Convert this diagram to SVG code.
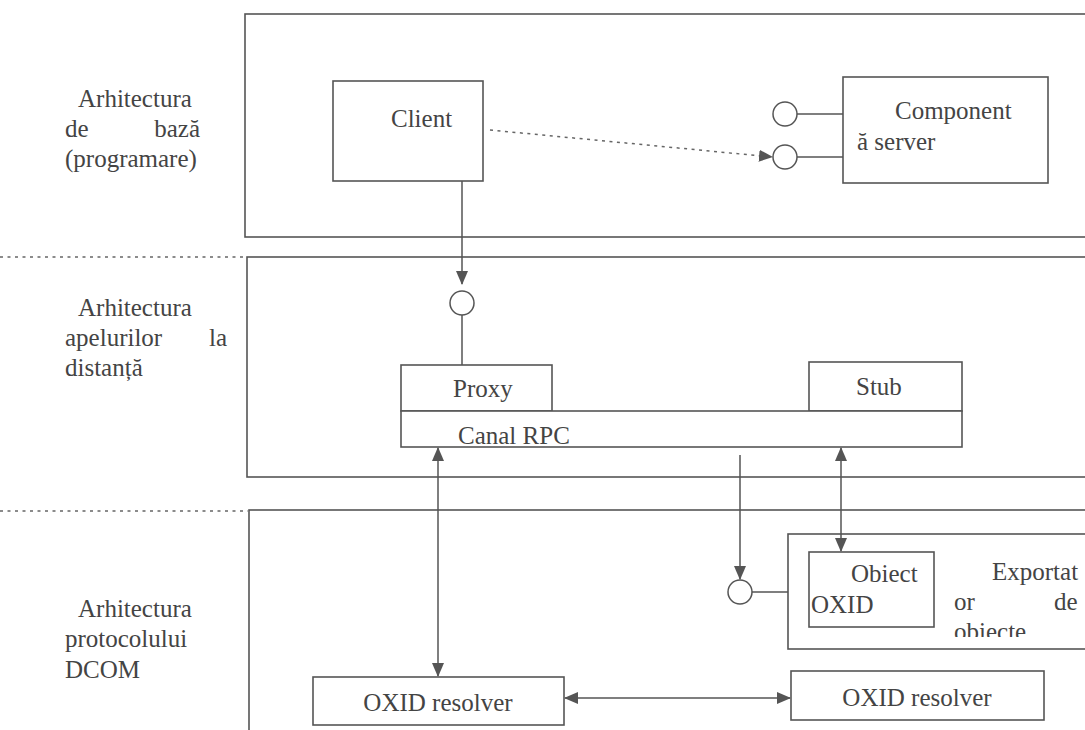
<svg xmlns="http://www.w3.org/2000/svg" width="1085" height="730" viewBox="0 0 1085 730">
<style>
.t{font-family:"Liberation Serif","Times New Roman",serif;font-size:25px;fill:#444}
.b{fill:#fff;stroke:#555;stroke-width:1.6}
.c{fill:none;stroke:#555;stroke-width:1.5}
.d{fill:none;stroke:#666;stroke-width:1.5;stroke-dasharray:3 4.5}
</style>
<defs>
<marker id="ah" markerUnits="userSpaceOnUse" markerWidth="14" markerHeight="12" viewBox="0 0 14 12" refX="13" refY="6" orient="auto-start-reverse">
<path d="M0,0 L14,6 L0,12 Z" fill="#555"/>
</marker>
<clipPath id="clipObj"><rect x="940" y="540" width="160" height="97"/></clipPath>
</defs>
<rect width="1085" height="730" fill="#fff"/>

<g id="dividers">
<line class="d" x1="0" y1="257" x2="245" y2="257"/>
<line class="d" x1="0" y1="511" x2="248" y2="511"/>
</g>

<g id="panel-base">
<rect class="b" x="245" y="14" width="860" height="223"/>
<text class="t" x="78" y="107">Arhitectura</text>
<text class="t" x="65" y="137">de</text>
<text class="t" x="200" y="137" text-anchor="end">bază</text>
<text class="t" x="65" y="167">(programare)</text>
</g>

<g id="panel-remote">
<rect class="b" x="247" y="257" width="860" height="220"/>
<text class="t" x="78" y="316">Arhitectura</text>
<text class="t" x="65" y="346">apelurilor</text>
<text class="t" x="227" y="346" text-anchor="end">la</text>
<text class="t" x="65" y="376">distanță</text>
</g>

<g id="panel-dcom">
<rect class="b" x="249" y="510" width="860" height="240"/>
<text class="t" x="78" y="617">Arhitectura</text>
<text class="t" x="65" y="647">protocolului</text>
<text class="t" x="65" y="678">DCOM</text>
</g>

<g id="client">
<rect class="b" x="333" y="81" width="150" height="100"/>
<text class="t" x="391" y="127">Client</text>
</g>

<g id="component-server">
<rect class="b" x="843" y="77" width="205" height="106"/>
<text class="t" x="895" y="119">Component</text>
<text class="t" x="857" y="150">ă server</text>
<circle class="c" cx="785" cy="114" r="12"/>
<line class="c" x1="797" y1="114" x2="843" y2="114"/>
<circle class="c" cx="785" cy="157" r="12"/>
<line class="c" x1="797" y1="157" x2="843" y2="157"/>
</g>

<g id="proxy">
<circle class="c" cx="462" cy="303" r="12"/>
<line class="c" x1="462" y1="315" x2="462" y2="365"/>
<rect class="b" x="401" y="365" width="151" height="46"/>
<text class="t" x="453" y="397">Proxy</text>
</g>

<g id="stub">
<rect class="b" x="809" y="362" width="153" height="49"/>
<text class="t" x="856" y="395">Stub</text>
</g>

<g id="canal-rpc">
<rect class="b" x="401" y="411" width="561" height="36"/>
<text class="t" x="458" y="444">Canal RPC</text>
</g>

<g id="exportator">
<circle class="c" cx="740" cy="592" r="12"/>
<line class="c" x1="752" y1="592" x2="788" y2="592"/>
<rect class="b" x="788" y="534" width="320" height="115"/>
<text class="t" x="992" y="580">Exportat</text>
<text class="t" x="954" y="610">or</text>
<text class="t" x="1054" y="610">de</text>
<text class="t" x="954" y="640" clip-path="url(#clipObj)">obiecte</text>
</g>

<g id="obiect-oxid">
<rect class="b" x="809" y="552" width="125" height="75"/>
<text class="t" x="851" y="582">Obiect</text>
<text class="t" x="811" y="613">OXID</text>
</g>

<g id="oxid-resolver-1">
<rect class="b" x="313" y="677" width="251" height="48"/>
<text class="t" x="438" y="711" text-anchor="middle">OXID resolver</text>
</g>

<g id="oxid-resolver-2">
<rect class="b" x="791" y="671" width="253" height="49"/>
<text class="t" x="917" y="706" text-anchor="middle">OXID resolver</text>
</g>

<g id="connectors">
<line class="c" x1="462" y1="181" x2="462" y2="284" marker-end="url(#ah)"/>
<line class="d" x1="490" y1="130" x2="772" y2="157" marker-end="url(#ah)"/>
<line class="c" x1="438" y1="448" x2="438" y2="676" marker-start="url(#ah)" marker-end="url(#ah)"/>
<line class="c" x1="740" y1="455" x2="740" y2="579" marker-end="url(#ah)"/>
<line class="c" x1="841" y1="448" x2="841" y2="551" marker-start="url(#ah)" marker-end="url(#ah)"/>
<line class="c" x1="565" y1="698" x2="790" y2="698" marker-start="url(#ah)" marker-end="url(#ah)"/>
</g>
</svg>
